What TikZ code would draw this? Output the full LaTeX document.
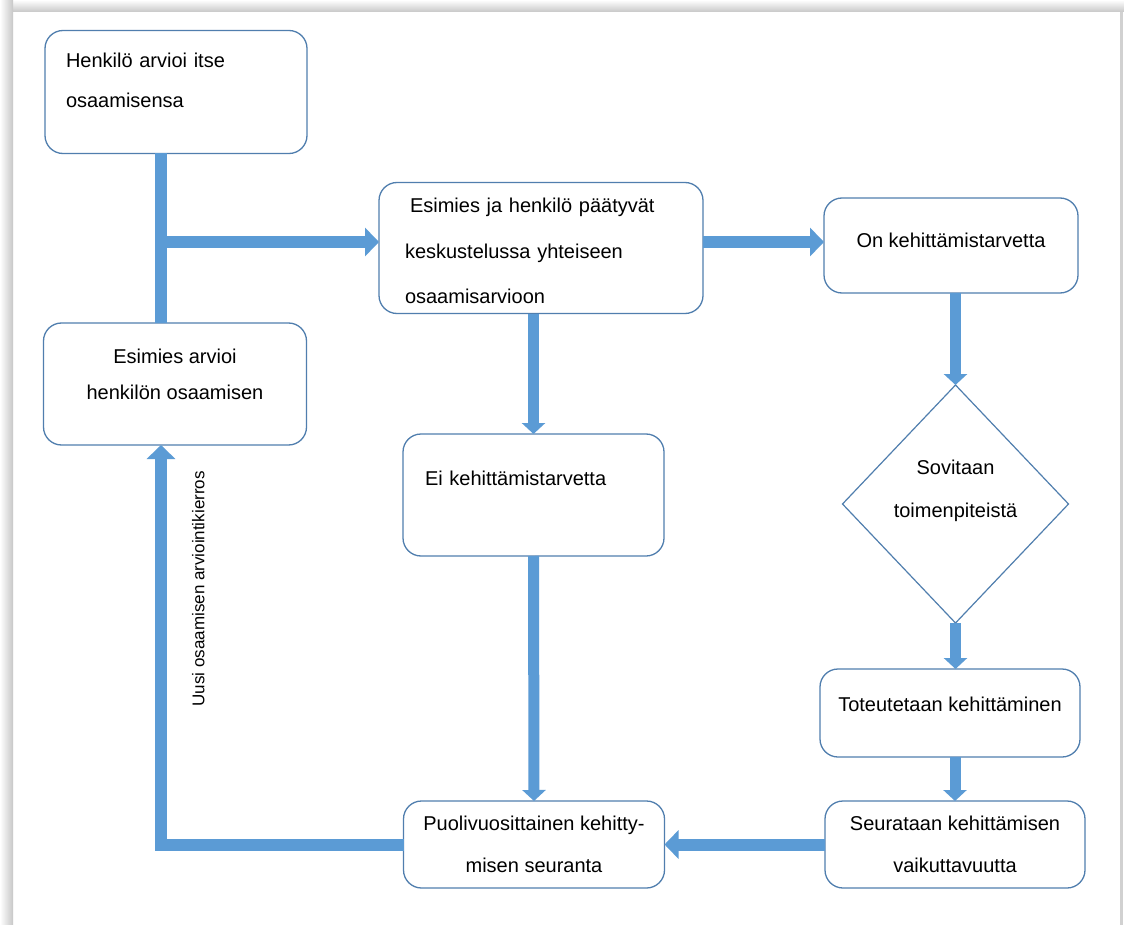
\documentclass[tikz,border=0pt]{standalone}
\usepackage{fontspec}
\setmainfont{Liberation Sans}
\usetikzlibrary{arrows.meta,shapes.geometric}

\definecolor{boxline}{RGB}{80,126,174}
\definecolor{flowblue}{RGB}{91,155,213}

\begin{document}
\begin{tikzpicture}[x=1pt,y=-1pt,
  card/.style={draw=boxline, line width=1.3pt, rounded corners=18pt,
    font=\fontsize{20}{42}\selectfont, inner sep=0pt, outer sep=0pt, align=center},
  flow/.style={draw=flowblue, line width=12pt},
  bigtip/.style={flow, -{Triangle[width=28pt,length=14pt]}},
  smalltip/.style={flow, line width=11pt, -{Triangle[width=23pt,length=11pt]}}]

  % page and its shadow
  \useasboundingbox (0,0) rectangle (1124,925);
  \fill[white] (0,0) rectangle (1124,925);
  \shade[top color=white, bottom color=black!22] (0,0) rectangle (1124,12);
  \shade[left color=white, right color=black!22] (0,0) rectangle (13,925);
  \fill[black!18] (1120,12) rectangle (1123,925);

  % boxes
  \node[card, minimum width=262pt, minimum height=123pt, text width=220pt,
    inner xsep=21pt, align=left, font=\fontsize{20}{40}\selectfont, text depth=64pt]
    (self) at (176,92) {Henkilö arvioi itse\\osaamisensa};
  \node[card, minimum width=263pt, minimum height=122pt, text depth=20pt,
    font=\fontsize{20}{36}\selectfont] (boss) at (175,384)
    {Esimies arvioi\\henkilön osaamisen};
  \node[card, minimum width=324pt, minimum height=131pt, text width=272pt,
    inner xsep=26pt, align=left, font=\fontsize{20}{45.5}\selectfont, text depth=85pt]
    (joint) at (541,248)
    {\hspace*{5pt}Esimies ja henkilö päätyvät\\keskustelussa yhteiseen\\osaamisarvioon};
  \node[card, minimum width=254pt, minimum height=95pt, text depth=10pt] (need)
    at (951,245.5) {On kehittämistarvetta};
  \node[draw=boxline, line width=1.2pt, diamond, minimum width=226pt, minimum height=238pt,
    inner sep=0pt, outer sep=0pt, align=center, font=\fontsize{20}{43}\selectfont,
    text depth=30pt] (act) at (955.5,504) {Sovitaan\\toimenpiteistä};
  \node[card, minimum width=261pt, minimum height=122pt, text width=217pt,
    inner xsep=22pt, align=left, text depth=34pt] (noneed) at (533.5,495)
    {Ei kehittämistarvetta};
  \node[card, minimum width=260pt, minimum height=88pt, text depth=18pt] (do)
    at (950,713) {Toteutetaan kehittäminen};
  \node[card, minimum width=260pt, minimum height=87pt] (follow) at (955,844.5)
    {Seurataan kehittämisen\\vaikuttavuutta};
  \node[card, minimum width=261pt, minimum height=87pt] (half) at (534,844.5)
    {Puolivuosittainen kehitty-\\misen seuranta};

  % connectors
  \coordinate (trunk) at (161,0);
  \coordinate (row) at (0,242);
  \draw[flow] (self.south -| trunk) -- (boss.north -| trunk);
  \draw[bigtip] (trunk |- row) -- (joint.west |- row);
  \draw[bigtip] (joint.east |- row) -- (need.west |- row);
  \draw[smalltip] (joint.south -| noneed.north) -- (noneed.north);
  \draw[smalltip] (need.south -| act.north) -- (act.north);
  \draw[smalltip] (act.south) -- (act.south |- do.north);
  \draw[smalltip] (follow.north |- do.south) -- (follow.north);
  \draw[smalltip] (noneed.south) -- (half.north);
  \draw[bigtip] (follow.west) -- (half.east);
  \draw[bigtip] (half.west) -| node[pos=0.82, rotate=90, anchor=north, inner xsep=0pt,
    inner ysep=31pt, outer sep=0pt, font=\fontsize{17}{20}\selectfont]
    {Uusi osaamisen arviointikierros} (trunk |- boss.south);

\end{tikzpicture}
\end{document}
